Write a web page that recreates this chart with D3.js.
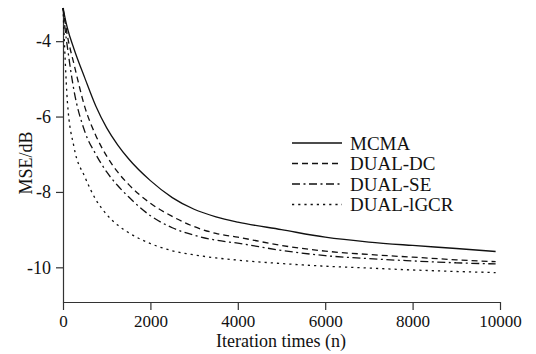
<!DOCTYPE html>
<html>
<head>
<meta charset="utf-8">
<script src="https://cdn.jsdelivr.net/npm/d3@7"></script>
<style>
  body { margin: 0; background: #fff; }
</style>
</head>
<body>
<div id="chart"></div>
<script>
// iteration counts shared by all curves
const iterations = [0, 50, 100, 250, 500, 750, 1000, 1250, 1500, 2000, 2500, 3000, 3500, 4000, 5000, 6000, 7000, 8000, 9000, 9900];

const mcma     = [-3.12, -3.4, -3.65, -4.2, -4.98, -5.72, -6.3, -6.75, -7.12, -7.7, -8.15, -8.46, -8.66, -8.8, -9.0, -9.2, -9.33, -9.42, -9.5, -9.58];
const dualDC   = [-3.12, -3.5, -3.85, -4.6, -5.75, -6.5, -7.05, -7.47, -7.8, -8.3, -8.65, -8.92, -9.1, -9.2, -9.42, -9.57, -9.66, -9.73, -9.8, -9.85];
const dualSE   = [-3.12, -3.7, -4.15, -5.3, -6.4, -7.0, -7.47, -7.83, -8.13, -8.63, -8.95, -9.15, -9.28, -9.36, -9.55, -9.69, -9.77, -9.83, -9.88, -9.91];
const dualLGCR = [-3.12, -4.5, -5.6, -6.8, -7.6, -8.2, -8.6, -8.88, -9.08, -9.37, -9.56, -9.67, -9.75, -9.81, -9.9, -9.97, -10.02, -10.07, -10.11, -10.14];

const seriesNames = ["MCMA", "DUAL-DC", "DUAL-SE", "DUAL-lGCR"];
const seriesValues = [mcma, dualDC, dualSE, dualLGCR];
const dashes = [null, "6,4", "8,3.5,2,3.5", "2.2,4"];

const xTicks = [0, 2000, 4000, 6000, 8000, 10000];
const yTicks = [-4, -6, -8, -10];

const serif = "'Liberation Serif', 'DejaVu Serif', 'Times New Roman', Times, serif";
const width = 536, height = 354;

const svg = d3.select("#chart").append("svg")
    .attr("width", width)
    .attr("height", height)
    .attr("font-family", serif);

const x = d3.scaleLinear().domain([0, 10000]).range([63, 500]);
const y = d3.scaleLinear().domain([-10.92, -3.12]).range([302, 8]);

// axes
svg.append("g")
    .attr("transform", "translate(0,302)")
    .call(d3.axisBottom(x).tickValues(xTicks).tickSize(8).tickSizeOuter(0).tickPadding(5).tickFormat(d3.format("d")))
    .attr("font-family", serif)
    .call(g => g.selectAll("text").attr("font-size", 17).attr("font-family", serif).attr("fill", "#111"))
    .call(g => g.selectAll("line, path").attr("stroke", "#333").attr("stroke-width", 1.2));

svg.append("g")
    .attr("transform", "translate(63,0)")
    .call(d3.axisLeft(y).tickValues(yTicks).tickSize(7).tickSizeOuter(0).tickPadding(5).tickFormat(d => d))
    .attr("font-family", serif)
    .call(g => g.selectAll("text").attr("font-size", 18).attr("font-family", serif).attr("fill", "#111"))
    .call(g => g.selectAll("line, path").attr("stroke", "#333").attr("stroke-width", 1.2));

// axis titles
svg.append("text")
    .attr("x", 281).attr("y", 347)
    .attr("text-anchor", "middle")
    .attr("font-size", 18)
    .attr("fill", "#111")
    .text("Iteration times (n)");

svg.append("text")
    .attr("transform", "translate(32,163) rotate(-90)")
    .attr("text-anchor", "middle")
    .attr("font-size", 18)
    .attr("fill", "#111")
    .text("MSE/dB");

// curves
const line = d3.line()
    .x((d, i) => x(iterations[i]))
    .y(d => y(d))
    .curve(d3.curveMonotoneX);

seriesValues.forEach((vals, k) => {
    svg.append("path")
        .datum(vals)
        .attr("fill", "none")
        .attr("stroke", "#111")
        .attr("stroke-width", 1.3)
        .attr("stroke-dasharray", dashes[k])
        .attr("d", line);
});

// legend
const legend = svg.append("g").attr("transform", "translate(292,143)");
seriesNames.forEach((name, k) => {
    const row = legend.append("g").attr("transform", `translate(0,${k * 20.5})`);
    row.append("line")
        .attr("x1", 0).attr("x2", 50)
        .attr("stroke", "#111")
        .attr("stroke-width", 1.3)
        .attr("stroke-dasharray", dashes[k]);
    row.append("text")
        .attr("x", 58).attr("y", 6.5)
        .attr("font-size", 19)
        .attr("fill", "#111")
        .text(name);
});
</script>
</body>
</html>
